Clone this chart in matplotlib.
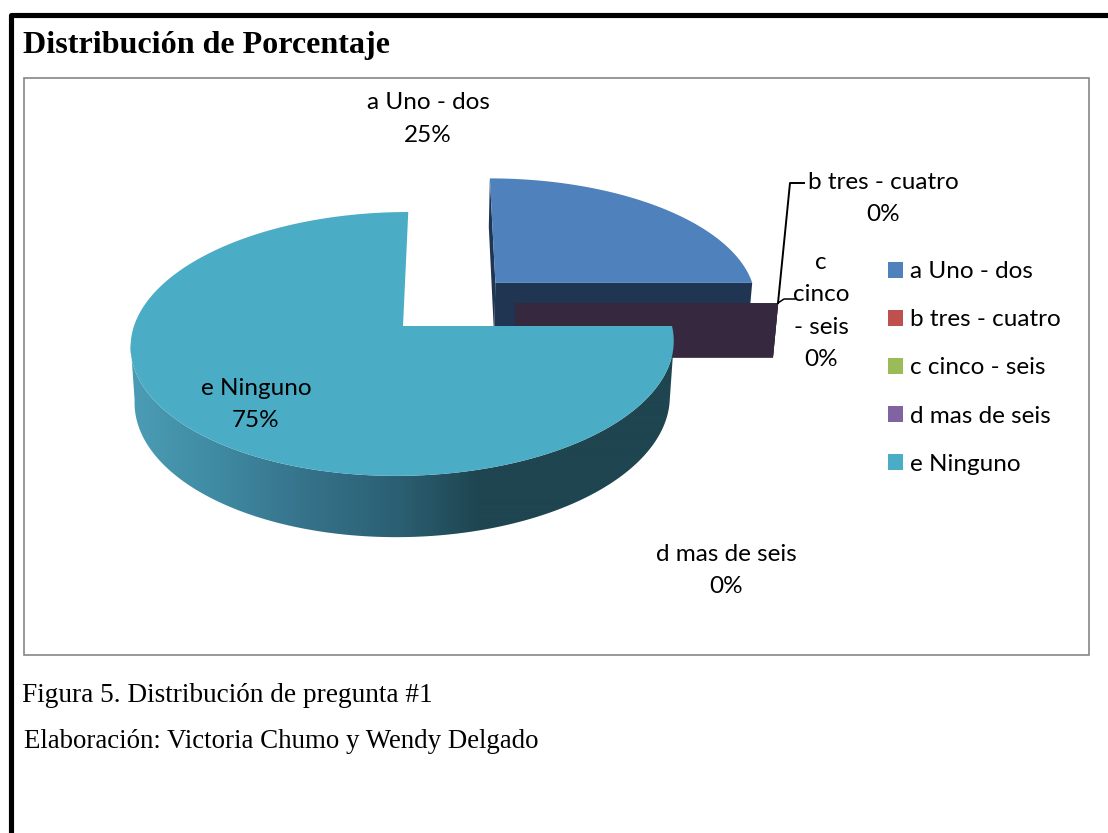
#!/usr/bin/env python
import numpy as np
import matplotlib
matplotlib.use('Agg')
import matplotlib.pyplot as plt
from matplotlib.patches import Polygon, Rectangle

categories = ['a Uno - dos', 'b tres - cuatro', 'c cinco - seis', 'd mas de seis', 'e Ninguno']
values = [25, 0, 0, 0, 75]
colors = ['#4f81bd', '#c0504d', '#9bbb59', '#8064a2', '#4bacc6']

title = 'Distribución de Porcentaje'
caption1 = 'Figura 5. Distribución de pregunta #1'
caption2 = 'Elaboración: Victoria Chumo y Wendy Delgado'

# perspective of the 3d pie, in pixels
X0, Y0 = 403, 326
RX, RY = 269, 129.5
K = 0.136
DEPTH = 56
KZ = 0.0145
SHEAR = 6


def project(x, y, low=False):
    x = np.asarray(x, dtype=float)
    y = np.asarray(y, dtype=float)
    w = 1 + K * y + (KZ if low else 0)
    sx = X0 + (RX * x + SHEAR * y) / w
    sy = Y0 + ((DEPTH if low else 0) - RY * y) / w
    return np.column_stack([sx, sy])


def wedge(start, end, off):
    # angles measured clockwise from the back of the pie
    t = np.radians(np.linspace(start, end, 200))
    xs = np.r_[off[0], off[0] + np.sin(t)]
    ys = np.r_[off[1], off[1] + np.cos(t)]
    return xs, ys


def wall_shade(px):
    stops_x = [135, 210, 300, 400, 480, 700]
    r = np.interp(px, stops_x, [0x4a, 0x40, 0x36, 0x2b, 0x1e, 0x1e])
    g = np.interp(px, stops_x, [0x9c, 0x8c, 0x74, 0x5f, 0x45, 0x45])
    b = np.interp(px, stops_x, [0xb4, 0xa4, 0x8c, 0x72, 0x50, 0x50])
    return np.dstack([r, g, b]) / 255


fig = plt.figure(figsize=(11.08, 8.33), dpi=100)
ax = fig.add_axes([0, 0, 1, 1])
ax.axis('off')

# page border and chart area
ax.plot([10.5, 10.5, 1108], [833, 14.5, 14.5], color='black', lw=3.7, solid_joinstyle='round')
ax.add_patch(Rectangle((24, 78), 1065, 577, fc='white', ec='#868686', lw=1.2))

fractions = np.cumsum([0] + values) / sum(values) * 360

# first slice, pulled out
off_a = (0.352, 0.349)
xa, ya = wedge(fractions[0], fractions[1], off_a)
wall_a = np.vstack([project([xa[-1], xa[0]], [ya[-1], ya[0]]),
                    project([xa[0], xa[-1]], [ya[0], ya[-1]], low=True)])
ax.add_patch(Polygon(wall_a, fc='#1f3552', ec='none'))
side_a = np.vstack([project([xa[1], xa[0]], [ya[1], ya[0]]),
                    project([xa[0], xa[1]], [ya[0], ya[1]], low=True)])
ax.add_patch(Polygon(side_a, fc='#1f3552', ec='none'))
ax.add_patch(Polygon(project(xa, ya), fc=colors[0], ec='none'))

# the slices of zero size are only a flat wall
off_z = (0.425, 0.18)
for i in [1, 2, 3]:
    t = np.radians(fractions[i])
    end = (off_z[0] + np.sin(t), off_z[1] + np.cos(t))
    slab = np.vstack([project([off_z[0], end[0]], [off_z[1], end[1]]),
                      project([end[0], off_z[0]], [end[1], off_z[1]], low=True)])
    ax.add_patch(Polygon(slab, fc='#35283f', ec='none'))

# big slice: shaded wall between the two silhouette points, then the top
xe, ye = wedge(fractions[4], fractions[5], (0, 0))
ext = np.degrees(np.arcsin(K))
t = np.radians(np.linspace(90 + ext, 270 - ext, 260))
up = project(np.sin(t), np.cos(t))
lo = project(np.sin(t), np.cos(t), low=True)
wall_e = Polygon(np.vstack([up, lo[::-1]]), fc='none', ec='none', transform=ax.transData)
ax.add_patch(wall_e)
grad_x = np.linspace(120, 690, 570)
img = ax.imshow(wall_shade(grad_x), extent=(120, 690, 560, 320), aspect='auto', zorder=1, interpolation='bilinear')
img.set_clip_path(wall_e)
ax.add_patch(Polygon(project(xe, ye), fc=colors[4], ec='none'))

# data labels
label_font = dict(family='Lato', fontsize=17.5, color='black', ha='center', va='center', linespacing=1.65)
ax.text(428, 119, f'{categories[0]}\n{values[0]}%', **label_font)
ax.text(883, 198.5, f'{categories[1]}\n{values[1]}%', **label_font)
ax.text(821, 311, f'c\ncinco\n- seis\n{values[2]}%', **label_font)
ax.text(726, 570.5, f'{categories[3]}\n{values[3]}%', **label_font)
ax.text(256, 404.5, f'{categories[4]}\n{values[4]}%', **label_font)

# leader lines
ax.plot([804, 790, 778], [183, 183, 303], color='black', lw=1.4)
ax.plot([778, 784, 795], [303, 299, 299], color='black', lw=1.1)

# legend
handles = [Rectangle((0, 0), 1, 1, fc=c, ec='none') for c in colors]
ax.legend(handles, categories, loc='upper left', bbox_to_anchor=(881 / 1108, 1 - 254 / 833),
          frameon=False, prop={'family': 'Lato', 'size': 17.5}, handlelength=0.62, handleheight=0.62,
          handletextpad=0.28, labelspacing=1.115, borderpad=0.3, borderaxespad=0)

# heading and captions
ax.text(23, 45, title, family='Liberation Serif', weight='bold', fontsize=23.1, va='center', ha='left')
ax.text(22, 695, caption1, family='Liberation Serif', fontsize=19.6, va='center', ha='left')
ax.text(24, 741, caption2, family='Liberation Serif', fontsize=19.35, va='center', ha='left')

ax.set_xlim(0, 1108)
ax.set_ylim(833, 0)

plt.savefig('out.png', dpi=100)
